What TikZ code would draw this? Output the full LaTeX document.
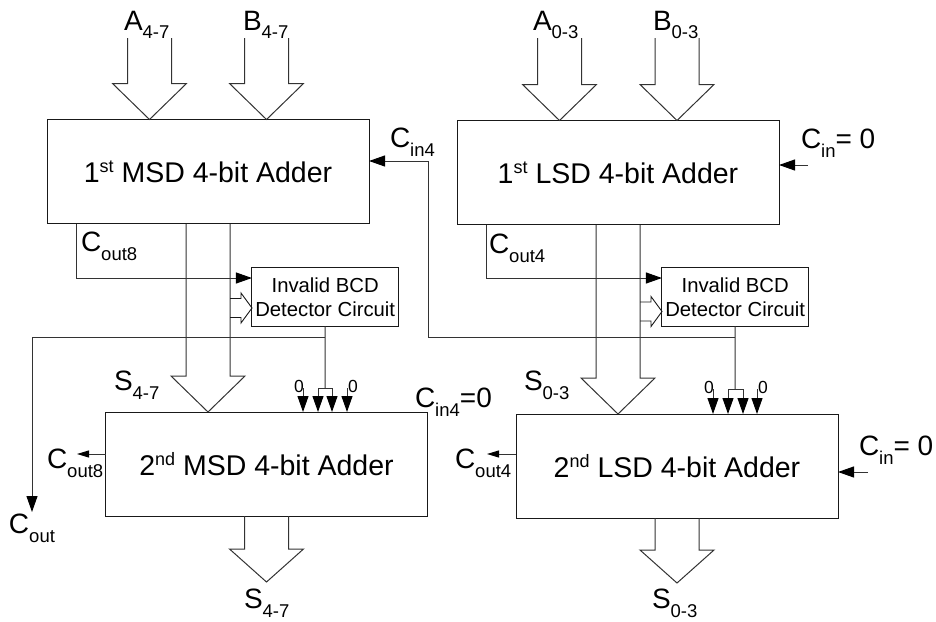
\documentclass[tikz,border=0pt]{standalone}
\usepackage{fontspec}
\setmainfont{Liberation Sans}
\usetikzlibrary{arrows.meta,calc}
\newcommand{\bigf}{\fontsize{28}{30}\selectfont}
\newcommand{\subf}{\fontsize{18.5}{20}\selectfont}
\newcommand{\lbl}[2]{{\bigf #1\raisebox{-9pt}{\subf #2}}}
\newcommand{\supr}[2]{#1\raisebox{10pt}{\fontsize{18}{19}\selectfont #2}}
\newcommand{\busdown}[2]{%
  \draw[conn] let \p1=(#1), \p2=(#2) in
    (\x1-22pt,\y1) -- (\x1-22pt,\y2+36pt) -- (\x1-37pt,\y2+36pt) -- (\x1,\y2)
    -- (\x1+37pt,\y2+36pt) -- (\x1+22pt,\y2+36pt) -- (\x1+22pt,\y1);}
\newcommand{\busout}[2]{%
  \draw[conn] let \p1=(#1), \p2=(#2) in
    (\x2-22pt,\y1) -- (\x2-22pt,\y2+33pt) -- (\x2-37pt,\y2+33pt) -- (\x2,\y2)
    -- (\x2+37pt,\y2+33pt) -- (\x2+22pt,\y2+33pt) -- (\x2+22pt,\y1);}
\newcommand{\busright}[2]{%
  \draw[thinconn] let \p1=(#1), \p2=(#2) in
    (\x1,\y2+9.5pt) -- (\x2-11pt,\y2+9.5pt) -- (\x2-11pt,\y2+15pt) -- (\x2,\y2)
    -- (\x2-11pt,\y2-15pt) -- (\x2-11pt,\y2-9.5pt) -- (\x1,\y2-9.5pt);}
\tikzset{
  adder/.style={draw=black!90,line width=1pt,inner sep=0pt,outer sep=0pt,minimum width=322pt,minimum height=104pt,font=\fontsize{28.5}{30}\selectfont},
  detect/.style={draw=black!90,line width=1pt,inner sep=0pt,outer sep=0pt,minimum width=146.5pt,minimum height=58.5pt,align=center,font=\fontsize{20.3}{24}\selectfont},
  conn/.style={draw=black!80,line width=1pt},
  thinconn/.style={draw=black!90,line width=0.9pt},
  bigarrow/.style={conn,-{Triangle[length=16pt,width=11pt,color=black,fill=black]}},
  smallarrow/.style={conn,-{Triangle[length=12pt,width=7pt,color=black,fill=black]}},
  lab/.style={anchor=base west,inner sep=0pt,outer sep=0pt},
  zero/.style={anchor=base west,inner sep=0pt,outer sep=0pt,font=\fontsize{17.5}{18}\selectfont}
}
\begin{document}
\begin{tikzpicture}[x=1pt,y=-1pt]
\useasboundingbox (0,0) rectangle (936,621);
% blocks
\node[adder] (msda) at (208,171.5) {\supr{1}{st} MSD 4-bit Adder};
\node[adder] (lsda) at (618,172.5) {\supr{1}{st} LSD 4-bit Adder};
\node[adder] (msdb) at (266.5,464) {\supr{2}{nd} MSD 4-bit Adder};
\node[adder] (lsdb) at (677,466) {\supr{2}{nd} LSD 4-bit Adder};
\node[detect] (detm) at (325.2,297) {Invalid BCD\\Detector Circuit};
\node[detect] (detl) at (735.2,297) {Invalid BCD\\Detector Circuit};
% free ends
\coordinate (a47) at (149.5,38);
\coordinate (b47) at (266.5,38);
\coordinate (a03) at (559.5,38);
\coordinate (b03) at (677,38);
\coordinate (sm) at (208,224);
\coordinate (sl) at (618,225);
\coordinate (hm) at (252,308);
\coordinate (hl) at (662,311.5);
\coordinate (xm) at (230,300);
\coordinate (xl) at (640,300);
\coordinate (outm) at (266.5,582);
\coordinate (outl) at (677,583);
\coordinate (cofm) at (76,224);
\coordinate (cofl) at (486,225);
\coordinate (jm) at (325,388);
\coordinate (jl) at (735,389);
\coordinate (jm1) at (318,388);
\coordinate (jm2) at (332,388);
\coordinate (jl1) at (728,389);
\coordinate (jl2) at (743,389);
\coordinate (zm1) at (303,388);
\coordinate (zm2) at (347,388);
\coordinate (zl1) at (713,389);
\coordinate (zl2) at (757,389);
\coordinate (tm) at (325,337);
\coordinate (tl) at (735,337);
\coordinate (cout) at (32,512);
\coordinate (cinfree) at (808,165);
\coordinate (cinfreeb) at (868,472);
\coordinate (cog8) at (77,454);
\coordinate (cog4) at (487,454);
% input and output buses
\busdown{a47}{a47 |- msda.north}
\busdown{b47}{b47 |- msda.north}
\busdown{a03}{a03 |- lsda.north}
\busdown{b03}{b03 |- lsda.north}
\busdown{sm}{sm |- msdb.north}
\busdown{sl}{sl |- lsdb.north}
\busout{msdb.south}{outm}
\busout{lsdb.south}{outl}
% to detectors
\busright{xm}{hm}
\busright{xl}{hl}
\draw[bigarrow] (cofm) |- (detm.west |- 0,278);
\draw[bigarrow] (cofl) |- (detl.west |- 0,278);
% detector outputs
\draw[conn] (detm.south) -- (jm);
\draw[conn] (detl.south) -- (jl);
\draw[bigarrow] (jm) -- (jm1) -- (jm1 |- msdb.north);
\draw[bigarrow] (jm) -- (jm2) -- (jm2 |- msdb.north);
\draw[bigarrow] (jl) -- (jl1) -- (jl1 |- lsdb.north);
\draw[bigarrow] (jl) -- (jl2) -- (jl2 |- lsdb.north);
\draw[bigarrow] (zm1) -- (zm1 |- msdb.north);
\draw[bigarrow] (zm2) -- (zm2 |- msdb.north);
\draw[bigarrow] (zl1) -- (zl1 |- lsdb.north);
\draw[bigarrow] (zl2) -- (zl2 |- lsdb.north);
% carry lines
\draw[bigarrow] (tm) -| (cout);
\draw[bigarrow] (tl) -| (428,161) -- (msda.east |- 0,161);
\draw[bigarrow] (cinfree) -- (lsda.east |- cinfree);
\draw[bigarrow] (cinfreeb) -- (lsdb.east |- cinfreeb);
\draw[smallarrow] (msdb.west |- cog8) -- (cog8);
\draw[smallarrow] (lsdb.west |- cog4) -- (cog4);
% labels
\node[lab] (la47) at (124,30) {\lbl{A}{4-7}};
\node[lab] (lb47) at (243,30) {\lbl{B}{4-7}};
\node[lab] (la03) at (533,30) {\lbl{A}{0-3}};
\node[lab] (lb03) at (653,30) {\lbl{B}{0-3}};
\node[lab] (lcin4) at (390,147) {\lbl{C}{in4}};
\node[lab] (lcina) at (801,148) {\lbl{C}{in}{\bigf= 0}};
\node[lab] (lcinb) at (859,455) {\lbl{C}{in}{\bigf= 0}};
\node[lab] (lco8) at (81,251) {\lbl{C}{out8}};
\node[lab] (lco4) at (489,253) {\lbl{C}{out4}};
\node[lab] (ls47) at (114,390) {\lbl{S}{4-7}};
\node[lab] (ls03) at (524,390) {\lbl{S}{0-3}};
\node[lab] (lcin40) at (415,407) {\lbl{C}{in4}{\bigf=0}};
\node[lab] (lcg8) at (47,468) {\lbl{C}{out8}};
\node[lab] (lcg4) at (455,468) {\lbl{C}{out4}};
\node[lab] (lcout) at (9,533) {\lbl{C}{out}};
\node[lab] (lsb47) at (244,608) {\lbl{S}{4-7}};
\node[lab] (lsb03) at (652,608) {\lbl{S}{0-3}};
\node[zero] (z1) at (294,392) {0};
\node[zero] (z2) at (348,392) {0};
\node[zero] (z3) at (704,393) {0};
\node[zero] (z4) at (758,393) {0};
\end{tikzpicture}
\end{document}
